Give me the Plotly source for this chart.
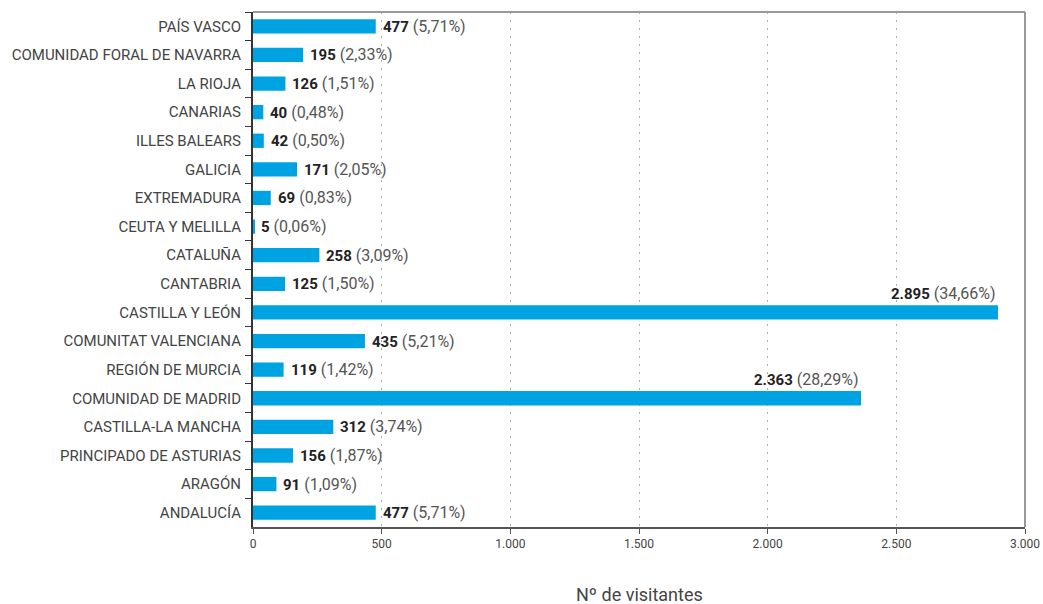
import plotly.graph_objects as go

regions = ["PAÍS VASCO", "COMUNIDAD FORAL DE NAVARRA", "LA RIOJA", "CANARIAS", "ILLES BALEARS",
           "GALICIA", "EXTREMADURA", "CEUTA Y MELILLA", "CATALUÑA", "CANTABRIA",
           "CASTILLA Y LEÓN", "COMUNITAT VALENCIANA", "REGIÓN DE MURCIA", "COMUNIDAD DE MADRID",
           "CASTILLA-LA MANCHA", "PRINCIPADO DE ASTURIAS", "ARAGÓN", "ANDALUCÍA"]
visitors = [477, 195, 126, 40, 42, 171, 69, 5, 258, 125, 2895, 435, 119, 2363, 312, 156, 91, 477]
value_labels = ["477", "195", "126", "40", "42", "171", "69", "5", "258", "125", "2.895",
                "435", "119", "2.363", "312", "156", "91", "477"]
pct_labels = ["5,71%", "2,33%", "1,51%", "0,48%", "0,50%", "2,05%", "0,83%", "0,06%", "3,09%",
              "1,50%", "34,66%", "5,21%", "1,42%", "28,29%", "3,74%", "1,87%", "1,09%", "5,71%"]
x_ticks = [0, 500, 1000, 1500, 2000, 2500, 3000]
x_ticktext = ["0", "500", "1.000", "1.500", "2.000", "2.500", "3.000"]

BAR = "#00A3E1"
TXT = "#444444"
FONT = "Roboto"

fig = go.Figure(go.Bar(
    x=visitors, y=regions, orientation="h",
    marker=dict(color=BAR, line=dict(width=0)),
    hoverinfo="skip",
))

annotations = []
for reg, v, vl, pl in zip(regions, visitors, value_labels, pct_labels):
    txt = (f"<b><span style='color:#222222;font-size:15px'>{vl}</span></b> "
           f"<span style='font-size:16px'>({pl})</span>")
    if v > 2000:
        annotations.append(dict(x=v, y=reg, xref="x", yref="y", text=txt, showarrow=False,
                                xanchor="right", yanchor="middle", yshift=19, xshift=0,
                                font=dict(family=FONT, size=16, color="#555555")))
    else:
        annotations.append(dict(x=v, y=reg, xref="x", yref="y", text=txt, showarrow=False,
                                xanchor="left", yanchor="middle", xshift=5,
                                font=dict(family=FONT, size=16, color="#555555")))

annotations.append(dict(x=0.5, y=0, xref="paper", yref="paper", text="Nº de visitantes",
                        showarrow=False, xanchor="center", yanchor="middle", yshift=-67,
                        font=dict(family=FONT, size=18, color="#444444")))

fig.update_layout(
    width=1043, height=604,
    margin=dict(l=253, r=18, t=12, b=77),
    paper_bgcolor="white", plot_bgcolor="white",
    bargap=0.5,
    showlegend=False,
    annotations=annotations,
    font=dict(family=FONT, color=TXT),
    shapes=[
        dict(type="line", xref="paper", yref="paper", x0=0, x1=1, y0=1, y1=1,
             line=dict(color="#999999", width=2)),
        dict(type="line", xref="paper", yref="paper", x0=1, x1=1, y0=0, y1=1,
             line=dict(color="#999999", width=2)),
    ],
)

fig.update_xaxes(
    range=[0, 3000], tickvals=x_ticks, ticktext=x_ticktext,
    showgrid=True, gridcolor="#aaaaaa", griddash="2px,6px", gridwidth=1,
    showline=True, linecolor="#555555", linewidth=2,
    ticks="outside", ticklen=5, tickcolor="#555555",
    tickfont=dict(family=FONT, size=12, color="#444444"),
    zeroline=False, fixedrange=True, automargin=False,
)
fig.update_yaxes(
    categoryorder="array", categoryarray=regions, autorange="reversed",
    showline=True, linecolor="#333333", linewidth=2,
    ticks="outside", ticklen=6, tickcolor="#333333", tickson="boundaries",
    tickfont=dict(family=FONT, size=15, color=TXT),
    ticklabelstandoff=7,
    showgrid=False, fixedrange=True, automargin=False,
)

fig.write_html("out.html")
